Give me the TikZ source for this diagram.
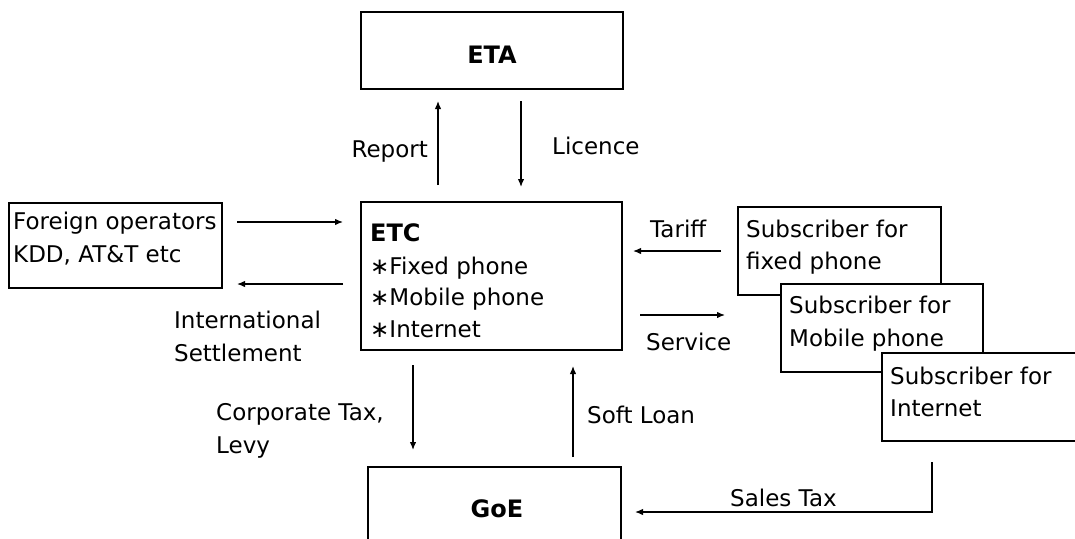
\documentclass[tikz,border=0pt]{standalone}
\usepackage{fontspec}
\setmainfont{DejaVu Sans}
\usetikzlibrary{arrows.meta}
\begin{document}
\begin{tikzpicture}[x=1pt,y=-1pt,
  box/.style={draw, line width=1.3pt, inner sep=0pt, fill=white},
  txt/.style={inner sep=0pt, anchor=base west, font=\fontsize{23}{33}\selectfont},
  ttl/.style={inner sep=0pt, anchor=base, font=\fontsize{24}{33}\selectfont\bfseries},
  flow/.style={line width=1.3pt, -{Latex[length=8pt,width=6.5pt]}}]
\useasboundingbox (0,0) rectangle (1075,538);

% boxes
\node[box, minimum width=262pt, minimum height=77pt]  (eta)  at (492,50.5)  {};
\node[box, minimum width=261pt, minimum height=148pt] (etc)  at (491.5,276) {};
\node[box, minimum width=213pt, minimum height=85pt]  (fo)   at (115.5,245.5) {};
\node[box, minimum width=253pt, minimum height=83pt]  (goe)  at (494.5,508.5) {};
\node[box, minimum width=203pt, minimum height=88pt]  (sfix) at (839.5,251) {};
\node[box, minimum width=202pt, minimum height=88pt]  (smob) at (882,328)   {};
\node[box, minimum width=208pt, minimum height=88pt]  (snet) at (986,397)   {};

% box texts
\node[ttl] (etat) at (492,63)  {ETA};
\node[ttl] (goet) at (497,517) {GoE};
\node[txt, font=\fontsize{24}{33}\selectfont\bfseries] (etct) at (370,241) {ETC};
\node[txt] (etc1) at (370,274) {∗Fixed phone};
\node[txt] (etc2) at (370,305) {∗Mobile phone};
\node[txt] (etc3) at (370,337) {∗Internet};
\node[txt] (fo1) at (13,229) {Foreign operators};
\node[txt] (fo2) at (13,262) {KDD, AT\&T etc};
\node[txt] (sf1) at (746,237) {Subscriber for};
\node[txt] (sf2) at (746,269) {fixed phone};
\node[txt] (sm1) at (789,313) {Subscriber for};
\node[txt] (sm2) at (789,346) {Mobile phone};
\node[txt] (sn1) at (890,384) {Subscriber for};
\node[txt] (sn2) at (890,416) {Internet};

% flow labels
\node[txt, anchor=base east] (lrep) at (428,157) {Report};
\node[txt] (llic) at (552,154) {Licence};
\node[txt] (ltar) at (650,237) {Tariff};
\node[txt] (lser) at (646,350) {Service};
\node[txt] (lint1) at (174,328) {International};
\node[txt] (lint2) at (174,361) {Settlement};
\node[txt] (lcor1) at (216,420) {Corporate Tax,};
\node[txt] (lcor2) at (216,453) {Levy};
\node[txt] (lsoft) at (587,423) {Soft Loan};
\node[txt] (lsal) at (730,506) {Sales Tax};

% arrow end points
\coordinate (foA) at (237,222); \coordinate (etcA) at (343,222);
\coordinate (etcB) at (343,284); \coordinate (foB) at (237,284);
\coordinate (repS) at (438,185); \coordinate (repE) at (438,101);
\coordinate (licS) at (521,101); \coordinate (licE) at (521,187);
\coordinate (tarS) at (721,251); \coordinate (tarE) at (633,251);
\coordinate (serS) at (640,315); \coordinate (serE) at (725,315);
\coordinate (corS) at (413,365); \coordinate (corE) at (413,450);
\coordinate (sofS) at (573,457); \coordinate (sofE) at (573,366);
\coordinate (salS) at (932,462); \coordinate (salM) at (932,512);
\coordinate (salE) at (635,512);

% flows
\draw[flow] (foA) -- (etcA);
\draw[flow] (etcB) -- (foB);
\draw[flow] (repS) -- (repE);
\draw[flow] (licS) -- (licE);
\draw[flow] (tarS) -- (tarE);
\draw[flow] (serS) -- (serE);
\draw[flow] (corS) -- (corE);
\draw[flow] (sofS) -- (sofE);
\draw[flow] (salS) -- (salM) -- (salE);
\end{tikzpicture}
\end{document}
